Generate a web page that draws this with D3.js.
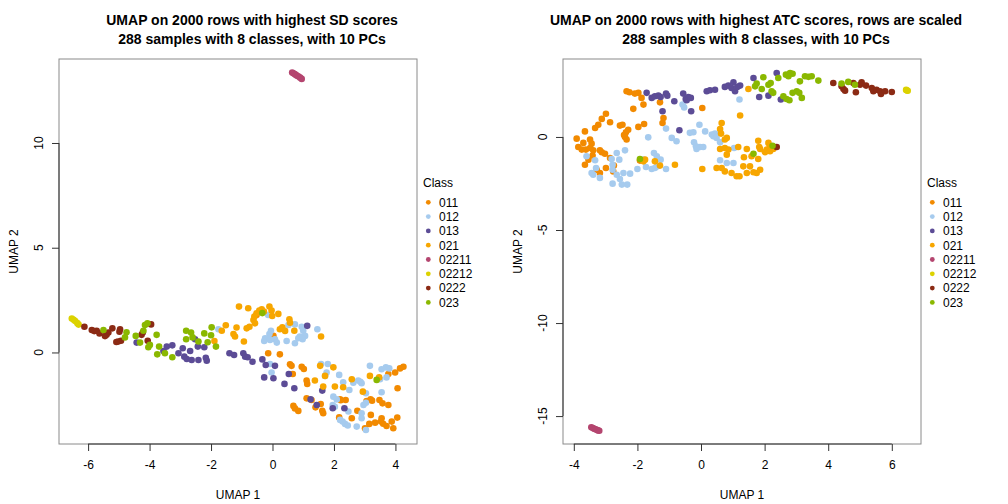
<!DOCTYPE html>
<html><head><meta charset="utf-8">
<script src="https://cdn.jsdelivr.net/npm/d3@7"></script>
<style>body{margin:0;background:#fff}svg{display:block}text{font-family:"Liberation Sans",Arial,sans-serif}</style>
</head><body><svg id="c" width="1008" height="504"></svg>
<script>
const classes = ["011","012","013","021","02211","02212","0222","023"];
const colors = ["#F28A00","#A6CBEE","#5C4C96","#F7A600","#B4456F","#DCD200","#8B2A14","#8AB800"];
const titlesLeft = ["UMAP on 2000 rows with highest SD scores","288 samples with 8 classes, with 10 PCs"];
const titlesRight = ["UMAP on 2000 rows with highest ATC scores, rows are scaled","288 samples with 8 classes, with 10 PCs"];
const ticksLeftX = [-6,-4,-2,0,2,4];
const ticksLeftY = [0,5,10];
const ticksRightX = [-4,-2,0,2,4,6];
const ticksRightY = [-15,-10,-5,0];

// ---- left panel (SD) ----
const sd_011 = [[-0.52,1.79],[0.03,0.79],[-0.14,-0.04],[0.24,-0.09],[0.57,-0.56],[0.62,-0.64],[0.66,-1.03],[0.95,-0.68],[1.02,-0.79],[1.11,-1.34],[1.13,-1.50],[0.68,-2.55],[0.73,-2.67],[0.84,-2.79],[1.11,-2.19],[1.27,-2.27],[1.40,-2.62],[1.57,-2.46],[1.62,-2.78],[1.65,-2.90],[2.20,-2.24],[2.38,-2.27],[2.76,-2.78],[2.58,-3.14],[2.17,-3.10],[3.06,-2.32],[3.19,-2.24],[3.48,-2.27],[3.58,-2.43],[3.77,-2.51],[3.20,-2.98],[3.55,-3.14],[3.53,-3.30],[3.34,-3.35],[3.15,-3.41],[3.01,-3.62],[3.71,-3.51],[3.88,-3.30],[3.93,-3.62],[4.06,-3.11],[4.07,-1.71],[3.99,-0.96],[4.15,-0.76],[4.26,-0.68],[3.77,-1.03],[3.24,-2.30],[3.60,-3.40],[2.22,-2.28]];
const sd_012 = [[-1.76,1.11],[-0.14,1.79],[-0.05,1.04],[-0.10,0.88],[-0.24,0.68],[-0.27,0.55],[-0.08,0.60],[0.08,0.63],[0.14,0.47],[0.46,0.55],[0.52,1.31],[0.73,1.34],[0.73,0.44],[0.95,1.23],[1.00,1.04],[1.06,0.79],[0.98,0.63],[0.89,0.76],[0.84,0.68],[1.46,1.11],[-0.08,-0.55],[-0.03,-0.96],[1.58,-0.55],[1.80,-0.55],[1.76,-0.96],[1.71,-1.12],[2.17,-1.07],[2.30,-1.42],[2.50,-1.79],[2.63,-1.44],[2.79,-1.34],[2.90,-1.47],[3.17,-0.64],[3.55,-0.80],[3.69,-0.71],[3.80,-0.76],[3.50,-1.28],[3.71,-1.19],[3.04,-1.95],[3.55,-1.90],[1.98,-2.11],[2.09,-2.24],[1.96,-2.51],[2.03,-2.59],[2.47,-2.82],[2.20,-3.22],[2.28,-3.30],[2.36,-3.41],[2.45,-3.49],[2.74,-3.54],[2.90,-2.90],[2.96,-2.51],[3.04,-2.40],[2.90,-3.14],[3.04,-3.70],[2.86,-1.40]];
const sd_013 = [[-4.42,0.47],[-3.55,0.07],[-3.44,0.28],[-3.26,0.34],[-3.06,-0.04],[-2.92,0.20],[-2.87,-0.20],[-2.79,-0.31],[-2.68,0.07],[-2.63,-0.36],[-2.52,0.63],[-2.43,0.28],[-2.41,-0.36],[-2.22,0.25],[-2.17,-0.25],[-2.14,-0.39],[-1.40,-0.04],[-1.25,-0.12],[-0.95,-0.04],[-0.89,-0.20],[-0.81,-0.23],[-0.65,-0.44],[-0.33,-0.33],[-0.22,-0.60],[0.08,-0.64],[-0.27,-1.19],[0.03,-1.23],[0.39,-1.50],[0.53,-1.03],[0.71,-1.71],[1.13,1.27],[1.24,-2.24],[1.44,-2.51],[1.62,-1.82],[1.96,-2.66],[2.34,-2.66]];
const sd_021 = [[-1.89,0.55],[-1.65,1.04],[-1.52,1.30],[-1.27,0.88],[-1.22,0.76],[-1.17,1.19],[-1.09,2.19],[-0.93,0.52],[-0.79,2.11],[-0.84,1.15],[-0.75,1.23],[-0.62,1.55],[-0.59,1.71],[-0.57,1.39],[-0.52,1.87],[-0.43,2.00],[-0.35,2.06],[-0.28,1.95],[-0.10,2.19],[-0.03,2.00],[-0.01,1.74],[0.19,1.84],[0.24,1.11],[0.32,1.20],[0.41,1.03],[0.55,1.58],[0.57,1.42],[0.71,1.04],[1.58,0.76],[1.55,-0.64],[1.71,-1.12],[1.98,-0.71],[1.38,-1.34],[1.65,-1.63],[2.03,-1.63],[2.30,-1.66],[2.58,-1.28],[2.94,-1.87],[3.17,-1.12],[3.47,-1.19]];
const sd_02211 = [[0.64,13.36],[0.68,13.33],[0.72,13.29],[0.76,13.25],[0.80,13.21],[0.85,13.17],[0.90,13.12],[0.95,13.06]];
const sd_02212 = [[-6.53,1.62],[-6.47,1.56],[-6.42,1.50],[-6.35,1.40],[-6.31,1.33]];
const sd_0222 = [[-6.12,1.23],[-5.88,1.07],[-5.72,1.04],[-5.63,0.91],[-5.40,0.84],[-5.34,0.95],[-5.21,1.15],[-4.96,1.11],[-4.98,0.99],[-5.02,0.52],[-4.93,0.56],[-4.26,0.84],[-4.06,0.56],[-3.95,1.34],[-5.80,1.02],[-5.45,0.78],[-5.08,0.50],[-4.22,0.95]];
const sd_023 = [[-5.50,1.07],[-4.75,0.96],[-4.80,0.72],[-4.45,0.79],[-4.31,0.47],[-4.20,1.04],[-4.15,1.31],[-4.07,1.39],[-3.99,0.36],[-4.04,0.25],[-3.77,0.84],[-3.69,0.28],[-3.75,-0.09],[-3.50,-0.04],[-3.26,-0.23],[-2.81,1.04],[-2.81,0.63],[-2.65,0.95],[-2.60,0.72],[-2.41,0.52],[-2.22,0.91],[-2.11,0.49],[-2.00,0.82],[-1.98,1.20],[-1.84,0.28],[3.39,-1.31],[-0.33,1.88]];

// ---- right panel (ATC) ----
const atc_011 = [[-2.34,2.46],[-2.25,2.40],[-2.08,2.33],[-1.97,2.37],[-1.87,2.10],[-1.81,1.74],[-2.13,1.51],[-1.97,0.54],[-1.79,0.70],[-1.18,1.02],[-1.21,0.75],[-1.29,1.86],[0.04,1.56],[-2.99,1.25],[-3.12,0.97],[-2.86,0.79],[-3.23,0.66],[-3.33,0.48],[-2.55,0.61],[-2.47,0.66],[-2.29,0.39],[-2.36,0.25],[-2.39,0.00],[-2.34,-0.14],[-3.65,0.30],[-3.91,-0.09],[-3.49,-0.14],[-3.44,-0.36],[-3.70,-0.32],[-3.86,-0.54],[-3.75,-0.68],[-3.62,-0.68],[-3.49,-0.59],[-3.39,-0.72],[-3.18,-0.72],[-3.12,-0.82],[-3.02,-0.90],[-3.41,-1.00],[-3.54,-1.22],[-3.65,-1.49],[-2.86,-1.13],[-2.74,-1.54],[-2.76,-1.85],[-2.99,-1.67],[-3.28,-1.76],[-3.18,-1.94],[-1.92,-1.27],[-2.42,0.10]];
const atc_012 = [[-0.58,1.74],[-0.53,1.59],[1.21,2.01],[-1.10,0.45],[-1.66,-0.02],[-0.92,-0.05],[-0.77,-0.23],[-0.35,0.22],[-0.24,0.25],[-0.05,0.66],[0.13,0.30],[0.34,0.13],[0.39,0.04],[0.44,0.18],[0.49,-0.05],[-0.22,-0.29],[-0.16,-0.50],[-0.03,-0.54],[0.07,-0.54],[-0.14,-0.65],[0.60,-0.29],[0.60,-1.25],[0.81,-1.40],[1.04,-0.59],[1.02,-1.40],[-2.65,-0.86],[-2.39,-0.72],[-2.81,-1.18],[-2.57,-1.22],[-2.78,-1.49],[-2.78,-1.76],[-2.65,-2.03],[-2.44,-1.94],[-2.23,-1.97],[-2.55,-2.26],[-2.49,-2.56],[-2.32,-2.56],[-2.78,-2.51],[-3.18,-2.20],[-3.44,-1.94],[-3.39,-2.03],[-3.30,-1.67],[-3.33,-1.25],[-3.60,-1.04],[-2.00,-1.72],[-1.73,-1.61],[-1.55,-1.72],[-1.45,-1.67],[-1.37,-1.58],[-1.27,-1.22],[-1.48,-0.86],[-1.39,-1.04],[-1.10,-1.72],[-1.81,-1.22]];
const atc_013 = [[-1.71,2.37],[-1.55,2.10],[-1.45,2.19],[-1.34,2.22],[-1.27,2.15],[-1.10,2.33],[-1.06,2.22],[-0.56,2.33],[-0.48,2.04],[-0.40,2.15],[-0.45,1.97],[-0.32,2.10],[-1.21,1.38],[-0.84,1.92],[-0.31,1.38],[-0.68,0.36],[0.18,2.46],[0.28,2.51],[0.44,2.54],[0.75,2.69],[0.86,2.76],[1.02,2.94],[1.07,2.46],[1.23,2.76],[1.65,3.17],[2.38,3.44],[1.83,2.15],[2.12,2.22],[2.51,2.01],[0.96,2.63],[1.14,2.69]];
const atc_021 = [[1.49,2.58],[1.23,1.15],[0.65,0.75],[0.60,0.43],[0.63,0.18],[0.75,-0.14],[0.81,-0.05],[0.60,-0.65],[0.75,-0.59],[0.86,-0.68],[0.81,-0.95],[1.17,-0.54],[1.44,-0.65],[1.80,-0.20],[1.83,-0.54],[1.86,-0.65],[2.12,-0.32],[2.17,-0.50],[2.07,-0.68],[2.01,-0.82],[2.17,-0.77],[2.27,-0.65],[1.35,-1.09],[1.59,-1.04],[1.80,-1.18],[0.65,-1.67],[0.49,-1.67],[0.75,-1.85],[0.96,-1.94],[1.12,-2.11],[1.21,-2.11],[1.33,-1.58],[1.54,-1.58],[1.44,-1.94],[1.65,-1.90],[1.86,-1.76],[1.75,-1.94],[-0.82,-1.49],[0.04,-1.72],[-1.29,-1.54],[-1.45,-1.31],[-1.81,-1.31],[-1.76,-1.22]];
const atc_02211 = [[-3.45,-15.60],[-3.40,-15.64],[-3.36,-15.68],[-3.32,-15.71],[-3.28,-15.74],[-3.24,-15.77],[-3.20,-15.79]];
const atc_02212 = [[6.45,2.53],[6.50,2.48],[6.48,2.50]];
const atc_0222 = [[4.16,2.90],[4.42,2.72],[4.48,2.58],[4.53,2.49],[4.79,2.90],[4.87,2.40],[5.00,2.81],[5.05,2.94],[5.19,2.76],[5.37,2.63],[5.42,2.46],[5.52,2.54],[5.63,2.46],[5.66,2.31],[5.79,2.46],[6.00,2.42],[2.38,-0.54]];
const atc_023 = [[-1.92,-1.18],[1.65,-0.90],[2.25,-0.47],[1.96,3.21],[1.75,2.87],[1.70,2.72],[1.91,2.58],[2.12,2.81],[2.19,2.90],[2.22,2.46],[2.27,2.37],[2.43,3.17],[2.67,3.35],[2.80,3.44],[2.88,3.40],[2.75,3.26],[3.11,2.99],[3.27,3.26],[3.38,3.23],[3.48,3.26],[3.69,3.03],[2.59,2.19],[2.69,2.04],[2.78,1.97],[2.88,2.37],[3.01,2.46],[3.09,2.37],[3.17,2.10],[4.42,2.87],[4.63,2.96],[4.84,2.81]];

const sdSeries = [sd_011,sd_012,sd_013,sd_021,sd_02211,sd_02212,sd_0222,sd_023];
const atcSeries = [atc_011,atc_012,atc_013,atc_021,atc_02211,atc_02212,atc_0222,atc_023];

const svg = d3.select("#c");
svg.append("rect").attr("width",1008).attr("height",504).attr("fill","#fff");

function panel(off, series, xDom, yDom, xt, yt, titles){
  const L = off+59, R = off+417, T = 59, B = 444;
  const x = d3.scaleLinear().domain(xDom).range([L,R]);
  const y = d3.scaleLinear().domain(yDom).range([B,T]);
  const g = svg.append("g");
  series.forEach((arr,i)=>{
    g.append("g").selectAll("circle").data(arr).join("circle")
      .attr("cx",d=>x(d[0])).attr("cy",d=>y(d[1])).attr("r",3.3)
      .attr("fill",colors[i]);
  });
  g.append("rect").attr("x",L).attr("y",T).attr("width",R-L).attr("height",B-T)
    .attr("fill","none").attr("stroke","#8a8a8a").attr("stroke-width",1);
  const ax = d3.axisBottom(x).tickValues(xt).tickSize(7).tickPadding(9).tickFormat(d3.format("d"));
  const gx = g.append("g").attr("transform",`translate(0,${B})`).call(ax);
  gx.select(".domain").remove();
  gx.selectAll("line").attr("stroke","#333");
  gx.selectAll("text").attr("font-size",12).attr("fill","#000").attr("font-family","Liberation Sans, Arial, sans-serif")
    .text(d=>String(d));
  g.append("line").attr("x1",x(xt[0])).attr("x2",x(xt[xt.length-1])).attr("y1",B).attr("y2",B).attr("stroke","#333");
  const ay = d3.axisLeft(y).tickValues(yt).tickSize(7).tickFormat("");
  const gy = g.append("g").attr("transform",`translate(${L},0)`).call(ay);
  gy.select(".domain").remove();
  gy.selectAll("line").attr("stroke","#333");
  g.append("line").attr("y1",y(yt[0])).attr("y2",y(yt[yt.length-1])).attr("x1",L).attr("x2",L).attr("stroke","#333");
  g.append("g").selectAll("text").data(yt).join("text")
    .attr("transform",d=>`translate(${L-16},${y(d)}) rotate(-90)`)
    .attr("text-anchor","middle").attr("font-size",12).text(d=>String(d));
  g.append("text").attr("x",(L+R)/2).attr("y",499).attr("text-anchor","middle").attr("font-size",12).text("UMAP 1");
  g.append("text").attr("transform",`translate(${off+18},${(T+B)/2}) rotate(-90)`).attr("text-anchor","middle").attr("font-size",12).text("UMAP 2");
  titles.forEach((t,i)=>{
    g.append("text").attr("x",off+252).attr("y",25+i*19).attr("text-anchor","middle")
      .attr("font-size",14).attr("font-weight","bold").text(t);
  });
  const lg = g.append("g");
  lg.append("text").attr("x",off+423).attr("y",187).attr("font-size",12).text("Class");
  classes.forEach((c,i)=>{
    const yy = 202.3 + i*14.3;
    lg.append("circle").attr("cx",off+428.3).attr("cy",yy).attr("r",2.4).attr("fill",colors[i]);
    lg.append("text").attr("x",off+439).attr("y",yy+4.3).attr("font-size",12).text(c);
  });
}

panel(0, sdSeries, [-6.947,4.702], [-4.37,14.01], ticksLeftX, ticksLeftY, titlesLeft);
panel(504, atcSeries, [-4.34,6.918], [-16.5,4.19], ticksRightX, ticksRightY, titlesRight);
</script></body></html>
